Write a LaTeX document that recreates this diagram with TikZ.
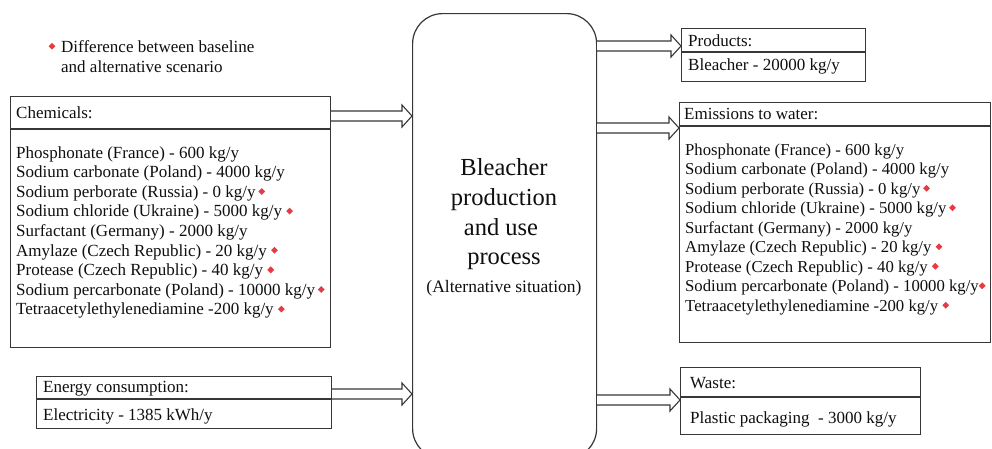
\documentclass[tikz,border=0pt]{standalone}
\usepackage{fontspec}
\setmainfont{Liberation Serif}
\usetikzlibrary{calc}

\definecolor{markred}{RGB}{232,58,66}
\definecolor{edge}{RGB}{55,55,55}
\definecolor{ink}{RGB}{15,15,15}

% small red diamond marking a changed value
\newcommand\dmd{\textcolor{markred}{\raisebox{0.3ex}{\rotatebox{45}{\rule{4.8pt}{4.8pt}}}}}

% open block arrow (shaft + triangular head) between two points at the same height
\newcommand\fatarrow[2]{%
  \draw[flowline] let \p1=(#1), \p2=(#2) in
    (\x1,\y1+5pt) -- (\x2-10pt,\y1+5pt) -- (\x2-10pt,\y1+11pt) -- (\x2,\y1)
    -- (\x2-10pt,\y1-11pt) -- (\x2-10pt,\y1-5pt) -- (\x1,\y1-5pt);}

\tikzset{
  box/.style={draw=edge, line width=1.2pt, inner sep=0pt, anchor=north west},
  divider/.style={draw=edge, line width=1.2pt},
  flowline/.style={draw=edge, line width=1.1pt, fill=white, line join=miter},
  lbl/.style={anchor=base west, inner sep=0pt, text=ink,
              font=\fontsize{17}{19.6}\selectfont},
  big/.style={anchor=base, inner sep=0pt, text=ink,
              font=\fontsize{24.5}{30}\selectfont},
}

\begin{document}
\begin{tikzpicture}[x=1pt, y=-1pt]
\useasboundingbox (0,0) rectangle (992,448);
\fill[white] (0,0) rectangle (992,448);

% legend
\node[inner sep=0pt] (legmark) at (52,47) {\dmd};
\node[lbl] (leg1) at (61,52) {Difference between baseline};
\node[lbl] (leg2) at (61,72) {and alternative scenario};

% chemicals input
\node[box, minimum width=320pt, minimum height=251pt] (chem) at (10,96) {};
\draw[divider] (10,129) -- (330,129);
\node[lbl] (chemhead) at (16,118) {Chemicals:};
\foreach \t [count=\i from 0] in {
  Phosphonate (France) - 600 kg/y,
  Sodium carbonate (Poland) - 4000 kg/y,
  Sodium perborate (Russia) - 0 kg/y\,\dmd,
  Sodium chloride (Ukraine) - 5000 kg/y \dmd,
  Surfactant (Germany) - 2000 kg/y,
  Amylaze (Czech Republic) - 20 kg/y \dmd,
  Protease (Czech Republic) - 40 kg/y \dmd,
  Sodium percarbonate (Poland) - 10000 kg/y\,\dmd,
  Tetraacetylethylenediamine -200 kg/y \dmd}
  \node[lbl] (chem\i) at (16,158+19.6*\i) {\t};

% energy input
\node[box, minimum width=295pt, minimum height=52pt] (energy) at (36,376) {};
\draw[divider] (36,399) -- (331,399);
\node[lbl] (energyhead) at (43,392) {Energy consumption:};
\node[lbl] (energy0) at (43,420) {Electricity - 1385 kWh/y};

% central process
\node[box, rounded corners=30pt, minimum width=184pt, minimum height=445pt] (proc) at (412,13) {};
\node[big] (p1) at (504,175) {Bleacher};
\node[big] (p2) at (504,205) {production};
\node[big] (p3) at (501,235) {and use};
\node[big] (p4) at (504,264) {process};
\node[anchor=base, inner sep=0pt, text=ink, font=\fontsize{17.5}{20}\selectfont] (p5) at (504,292) {(Alternative situation)};

% products output
\node[box, minimum width=184pt, minimum height=53pt] (prod) at (681,28) {};
\draw[divider] (681,52) -- (865,52);
\node[lbl] (prodhead) at (688,46) {Products:};
\node[lbl] (prod0) at (688,70) {Bleacher - 20000 kg/y};

% emissions output
\node[box, minimum width=311pt, minimum height=240pt] (emis) at (679,102) {};
\draw[divider] (679,126) -- (990,126);
\node[lbl] (emishead) at (684,119) {Emissions to water:};
\foreach \t [count=\i from 0] in {
  Phosphonate (France) - 600 kg/y,
  Sodium carbonate (Poland) - 4000 kg/y,
  Sodium perborate (Russia) - 0 kg/y\,\dmd,
  Sodium chloride (Ukraine) - 5000 kg/y\,\dmd,
  Surfactant (Germany) - 2000 kg/y,
  Amylaze (Czech Republic) - 20 kg/y \dmd,
  Protease (Czech Republic) - 40 kg/y \dmd,
  Sodium percarbonate (Poland) - 10000 kg/y\dmd,
  Tetraacetylethylenediamine -200 kg/y \dmd}
  \node[lbl, font=\fontsize{16.7}{19.5}\selectfont] (emis\i) at (685,155+19.5*\i) {\t};

% waste output
\node[box, minimum width=240pt, minimum height=67pt] (waste) at (680,367) {};
\draw[divider] (680,397) -- (920,397);
\node[lbl] (wastehead) at (690,388) {Waste:};
\node[lbl] (waste0) at (690,423) {Plastic packaging \ - 3000 kg/y};

% flows
\coordinate (inchem) at ($(chem.north east)+(0,20)$);
\fatarrow{inchem}{inchem -| proc.west}
\coordinate (inenergy) at ($(energy.north east)+(0,18)$);
\fatarrow{inenergy}{inenergy -| proc.west}
\coordinate (outprod) at ($(prod.north west)+(0,18)$);
\fatarrow{outprod -| proc.east}{outprod}
\coordinate (outemis) at ($(emis.north west)+(0,26)$);
\fatarrow{outemis -| proc.east}{outemis}
\coordinate (outwaste) at ($(waste.north west)+(0,33)$);
\fatarrow{outwaste -| proc.east}{outwaste}
\end{tikzpicture}
\end{document}
